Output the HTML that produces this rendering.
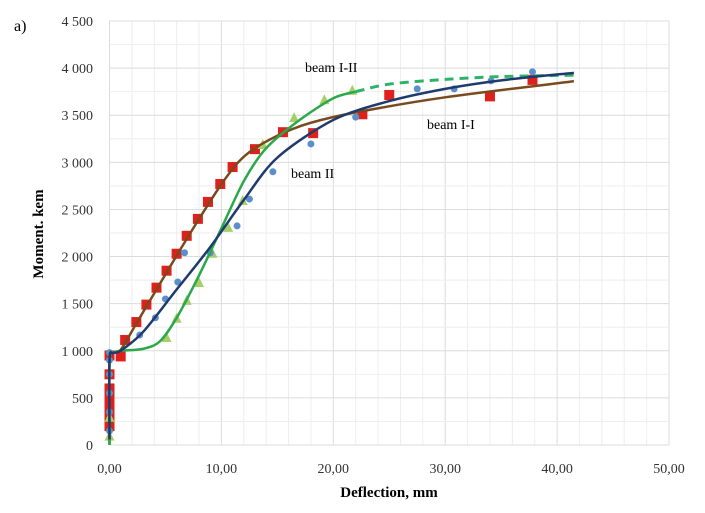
<!DOCTYPE html>
<html><head><meta charset="utf-8"><style>
body{margin:0;background:#fff;}
svg text{font-family:"Liberation Serif",serif;}
</style></head><body>
<svg id="chart" width="705" height="508" xmlns="http://www.w3.org/2000/svg">
<g id="grid"></g>
<g id="axes"></g>
<g id="series"></g>
<text x="14" y="31" font-size="16">a)</text>
<text x="305" y="72" font-size="14">beam I-II</text>
<text x="427" y="129" font-size="14">beam I-I</text>
<text x="291" y="178" font-size="14">beam II</text>
<text x="389" y="497" font-size="15" font-weight="bold" text-anchor="middle">Deflection, mm</text>
<text transform="translate(43,234) rotate(-90)" font-size="15" font-weight="bold" text-anchor="middle">Moment. kem</text>
</svg>
<script>
const xTicks=[0,10,20,30,40,50];
const xTickLabels=["0,00","10,00","20,00","30,00","40,00","50,00"];
const yTicks=[0,500,1000,1500,2000,2500,3000,3500,4000,4500];
const yTickLabels=["0","500","1 000","1 500","2 000","2 500","3 000","3 500","4 000","4 500"];
// beam I-I (red squares + brown fit)
const sqX=[0,0,0,0,0,0,0,1,1.4,2.4,3.3,4.2,5.1,6.0,6.9,7.9,8.8,9.9,11,13,15.5,18.2,22.6,25,34,37.8];
const sqY=[200,300,400,500,600,750,950,940,1115,1305,1490,1670,1850,2030,2220,2400,2580,2770,2950,3140,3320,3310,3510,3715,3700,3875];
const fitIX=[0,0,0.3,1,2.4,4.2,6,7.9,9.9,11.5,13,15.5,18,22,30,41.5];
const fitIY=[0,900,980,1010,1290,1650,2010,2380,2750,3000,3150,3310,3420,3530,3690,3860];
// beam II (blue circles + navy fit)
const ciX=[0,0,0,0,0,0,2.7,4.1,5.0,6.1,6.7,9.0,11.4,12.5,14.6,18,22,27.5,30.8,34.1,37.8];
const ciY=[150,350,550,750,900,980,1168,1350,1550,1730,2040,2040,2325,2610,2900,3195,3480,3780,3780,3865,3960];
const fitIIX=[0,0,0.3,1,3,6,9,12,15,20,25,30,35,41.5];
const fitIIY=[60,900,975,1000,1200,1650,2100,2600,3050,3450,3650,3780,3870,3950];
// beam I-II (green triangles + green fit, dashed extension)
const trX=[0,0,5.1,6.0,6.9,8.0,9.2,10.6,11.9,13.7,16.5,19.2,21.7];
const trY=[100,300,1146,1350,1540,1730,2040,2315,2600,3195,3480,3670,3770];
const fitIIIX=[0,0,0.3,1,3,4.5,6,8,10,12,14,17,20,22];
const fitIIIY=[0,900,975,1000,1020,1100,1350,1800,2300,2800,3150,3450,3680,3750];
const dashX=[22,25,30,35,41.5];
const dashY=[3750,3830,3880,3910,3925];

const X0=109.5,X1=669,Y0=445,Y1=21;
const sx=v=>X0+(v/50)*(X1-X0);
const sy=v=>Y0-(v/4500)*(Y0-Y1);
const NS="http://www.w3.org/2000/svg";
function mk(tag,parent,attrs){const e=document.createElementNS(NS,tag);for(const k in attrs)e.setAttribute(k,attrs[k]);parent.appendChild(e);return e;}
const grid=document.getElementById('grid'),axes=document.getElementById('axes'),ser=document.getElementById('series');
for(let v=0;v<=50;v+=2){const l=mk('line',grid,{x1:sx(v),x2:sx(v),y1:Y1,y2:Y0,stroke:v%10?'#eeeeee':'#dcdcdc','stroke-width':1});
}
for(let v=0;v<=4500;v+=250){const l=mk('line',grid,{x1:X0,x2:X1,y1:sy(v),y2:sy(v),stroke:v%500?'#eeeeee':'#dcdcdc','stroke-width':1});
}
xTicks.forEach((v,i)=>{const t=mk('text',axes,{x:sx(v),y:473,'font-size':14,'text-anchor':'middle',fill:'#333'});t.textContent=xTickLabels[i];
});
yTicks.forEach((v,i)=>{const t=mk('text',axes,{x:93,y:sy(v)+5,'font-size':14,'text-anchor':'end',fill:'#333'});t.textContent=yTickLabels[i];
});
function path(xs,ys){const p=xs.map((x,i)=>[sx(x),sy(ys[i])]);let d='M'+p[0][0]+','+p[0][1];
for(let i=0;i<p.length-1;i++){const a=p[Math.max(0,i-1)],b=p[i],c=p[i+1],e=p[Math.min(p.length-1,i+2)];
const t=0.15;d+=' C'+(b[0]+(c[0]-a[0])*t)+','+(b[1]+(c[1]-a[1])*t)+' '+(c[0]-(e[0]-b[0])*t)+','+(c[1]-(e[1]-b[1])*t)+' '+c[0]+','+c[1];}return d;}
function line(xs,ys,col,w,name,dash){const l=mk('path',ser,{d:path(xs,ys),fill:'none',stroke:col,'stroke-width':w});if(dash)l.setAttribute('stroke-dasharray',dash);
}
sqX.forEach((x,i)=>{const r=mk('rect',ser,{x:sx(x)-5,y:sy(sqY[i])-5,width:10,height:10,fill:'#e0201b'});
});
trX.forEach((x,i)=>{const cx=sx(x),cy=sy(trY[i]);const p=mk('polygon',ser,{points:(cx-5)+','+(cy+5)+' '+(cx+5)+','+(cy+5)+' '+cx+','+(cy-5),fill:'#a6cf6a'});
});
ciX.forEach((x,i)=>{const c=mk('circle',ser,{cx:sx(x),cy:sy(ciY[i]),r:3.5,fill:'#5b8fcc'});
});
line(fitIX,fitIY,'#7a4a1e',2.5,'beam-i-i-fit');
line(fitIIIX,fitIIIY,'#2aa84a',2.5,'beam-i-ii-fit');
line(dashX,dashY,'#2cb36a',3,'beam-i-ii-extension','9,6');
line(fitIIX,fitIIY,'#1f3b6e',2.5,'beam-ii-fit');
</script>
</body></html>
